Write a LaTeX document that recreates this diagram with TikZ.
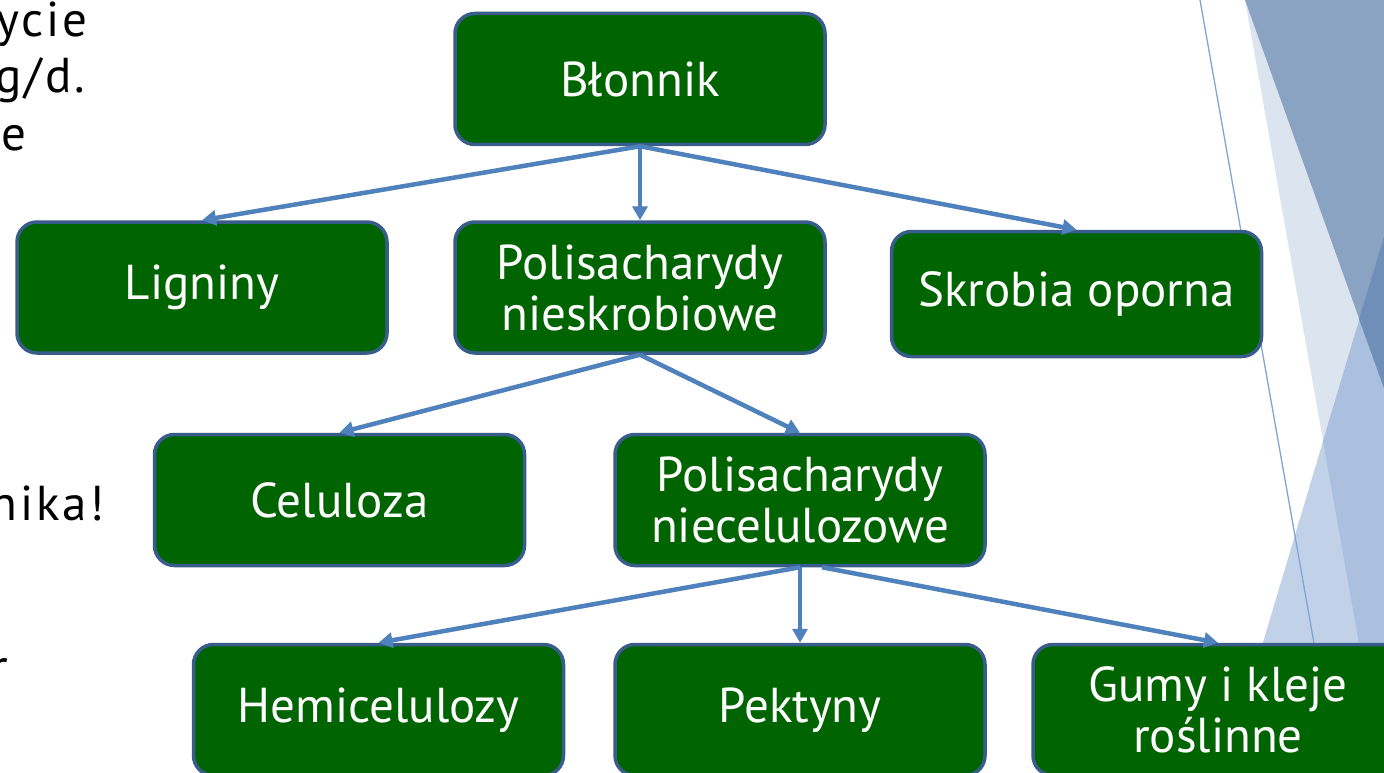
\documentclass[tikz,border=0pt]{standalone}
\usepackage{fontspec}
\setmainfont{PT Sans}
\usepackage{tikz}
\usetikzlibrary{arrows.meta, positioning}
\definecolor{boxgreen}{RGB}{0,100,0}
\definecolor{boxedge}{RGB}{56,93,138}
\definecolor{arrowblue}{RGB}{79,129,189}
\definecolor{facetthin}{RGB}{130,165,212}
\definecolor{facetpale}{RGB}{220,228,240}
\definecolor{facetlight}{RGB}{192,209,232}
\definecolor{facetmid}{RGB}{171,192,223}
\definecolor{facetdark}{RGB}{138,163,194}
\definecolor{facetdeep}{RGB}{111,143,184}

\begin{document}
\begin{tikzpicture}[x=1pt, y=-1pt,
  box/.style={draw=boxedge, line width=3.5pt, fill=boxgreen, rounded corners=20pt, minimum width=370pt, minimum height=131pt, inner sep=0pt, text=white, font=\fontsize{49}{51}\selectfont, align=center},
  bodytext/.style={anchor=base east, inner sep=0pt, font=\fontsize{49}{51}\selectfont\addfontfeatures{LetterSpace=6}},
  link/.style={draw=arrowblue, line width=4.5pt, -{Triangle[length=14pt,width=15pt]}}
]
\useasboundingbox (0,0) rectangle (1384,773);
\clip (0,0) rectangle (1384,773);
\fill[white] (0,0) rectangle (1384,773);

%% Facets on the right edge
\fill[facetpale] (1245,0) -- (1384,0) -- (1384,773) -- (1382,773) -- cycle;
\fill[facetlight] (1384,237) -- (1384,773) -- (1224,773) -- cycle;
\fill[facetmid] (1384,237) -- (1323,441) -- (1382,773) -- (1384,773) -- cycle;
\fill[facetdark] (1245,0) -- (1384,0) -- (1384,388) -- cycle;
\fill[facetdeep] (1384,237) -- (1359,319) -- (1384,388) -- cycle;
\draw[facetthin, line width=1.3pt] (1200,0) -- (1337,773);

%% Text cut off on the left
\node[bodytext] (txtA) at (88,37) {życie};
\node[bodytext] (txtB) at (85,93) {g/d.};
\node[bodytext] (txtC) at (27,150) {e};
\node[bodytext] (txtD) at (105,520) {nika!};
\node[bodytext] (txtE) at (8,683) {r};

%% Tree of boxes
\node[box] (blonnik) at (640,79) {Błonnik};
\node[box] (ligniny) at (202,287.5) {Ligniny};
\node[box] (polinsk) at (640,287.5) {Polisacharydy\\nieskrobiowe};
\node[box, minimum height=125pt] (skrobia) at (1076.5,294) {Skrobia oporna};
\node[box] (celuloza) at (339.5,500) {Celuloza};
\node[box] (polincel) at (800,500) {Polisacharydy\\niecelulozowe};
\node[box] (hemi) at (378.5,710) {Hemicelulozy};
\node[box] (pektyny) at (800,710) {Pektyny};
\node[box] (gumy) at (1218,710) {Gumy i kleje\\roślinne};

%% Arrows
\draw[link] (blonnik.south) -- (ligniny.north);
\draw[link] (blonnik.south) -- (polinsk.north);
\draw[link] (blonnik.south) -- (skrobia.north);
\draw[link] (polinsk.south) -- (celuloza.north);
\draw[link] (polinsk.south) -- (polincel.north);
\draw[link] (polincel.south) -- (hemi.north);
\draw[link] (polincel.south) -- (pektyny.north);
\draw[link] ([xshift=22pt]polincel.south) -- (gumy.north);
\end{tikzpicture}
\end{document}
